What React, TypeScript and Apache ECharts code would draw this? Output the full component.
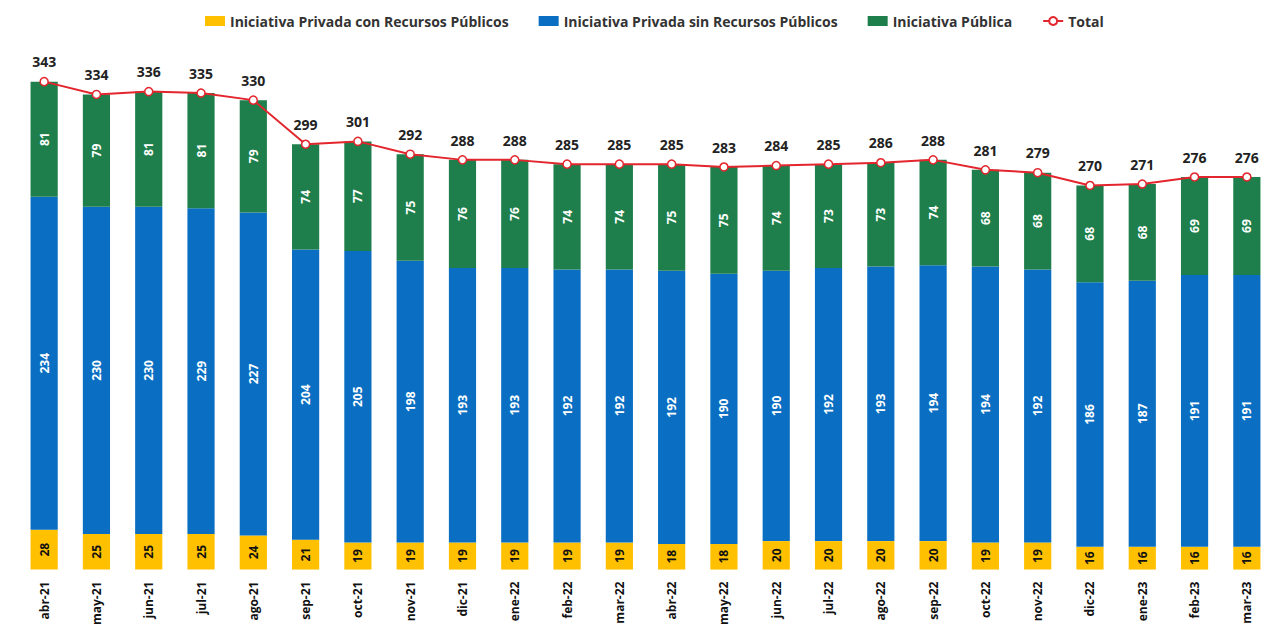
import React, { useEffect, useRef } from "react";
import * as echarts from "echarts";

const categories = ["abr-21","may-21","jun-21","jul-21","ago-21","sep-21","oct-21","nov-21","dic-21","ene-22","feb-22","mar-22","abr-22","may-22","jun-22","jul-22","ago-22","sep-22","oct-22","nov-22","dic-22","ene-23","feb-23","mar-23"];
const conRecursos = [28,25,25,25,24,21,19,19,19,19,19,19,18,18,20,20,20,20,19,19,16,16,16,16];
const sinRecursos = [234,230,230,229,227,204,205,198,193,193,192,192,192,190,190,192,193,194,194,192,186,187,191,191];
const publica = [81,79,81,81,79,74,77,75,76,76,74,74,75,75,74,73,73,74,68,68,68,68,69,69];
const total = [343,334,336,335,330,299,301,292,288,288,285,285,285,283,284,285,286,288,281,279,270,271,276,276];

const FONT = "'Open Sans', sans-serif";

export default function App() {
  const ref = useRef<HTMLDivElement>(null);
  useEffect(() => {
    const chart = echarts.init(ref.current!, null, { renderer: "svg" });
    const inLabel = (color: string) => ({
      show: true,
      position: "inside",
      rotate: 90,
      color,
      fontWeight: "bold",
      fontSize: 12,
      fontFamily: FONT,
    });
    chart.setOption({
      animation: false,
      textStyle: { fontFamily: FONT },
      legend: {
        top: 1,
        left: 192,
        itemWidth: 20,
        itemHeight: 10,
        itemGap: 30,
        textStyle: { fontWeight: "bold", fontSize: 14, color: "#333", fontFamily: FONT },
        data: [
          { name: "Iniciativa Privada con Recursos Públicos", icon: "rect" },
          { name: "Iniciativa Privada sin Recursos Públicos", icon: "rect" },
          { name: "Iniciativa Pública", icon: "rect" },
          { name: "Total" },
        ],
      },
      grid: { left: 10, right: 0, top: 21, bottom: 53 },
      xAxis: {
        type: "category",
        data: categories,
        axisLine: { show: false },
        axisTick: { show: false },
        axisLabel: { rotate: 90, fontWeight: "bold", fontSize: 12, color: "#111", margin: 12, fontFamily: FONT, interval: 0 },
      },
      yAxis: { type: "value", min: 0, max: 380, show: false, splitLine: { show: false } },
      series: [
        {
          name: "Iniciativa Privada con Recursos Públicos",
          type: "bar",
          stack: "a",
          barWidth: "52%",
          data: conRecursos,
          itemStyle: { color: "#FFC000" },
          label: inLabel("#111"),
        },
        {
          name: "Iniciativa Privada sin Recursos Públicos",
          type: "bar",
          stack: "a",
          data: sinRecursos,
          itemStyle: { color: "#0A6FC2" },
          label: inLabel("#fff"),
        },
        {
          name: "Iniciativa Pública",
          type: "bar",
          stack: "a",
          data: publica,
          itemStyle: { color: "#1E7F4C" },
          label: inLabel("#fff"),
        },
        {
          name: "Total",
          type: "line",
          data: total,
          symbol: "circle",
          symbolSize: 8,
          lineStyle: { color: "#E3262D", width: 2 },
          itemStyle: { color: "#fff", borderColor: "#E3262D", borderWidth: 1.5 },
          label: { show: true, position: "top", distance: 8, fontWeight: "bold", fontSize: 14, color: "#222", fontFamily: FONT },
          z: 5,
        },
      ],
    });
    return () => chart.dispose();
  }, []);
  return <div ref={ref} style={{ width: 1265, height: 620 }} />;
}
